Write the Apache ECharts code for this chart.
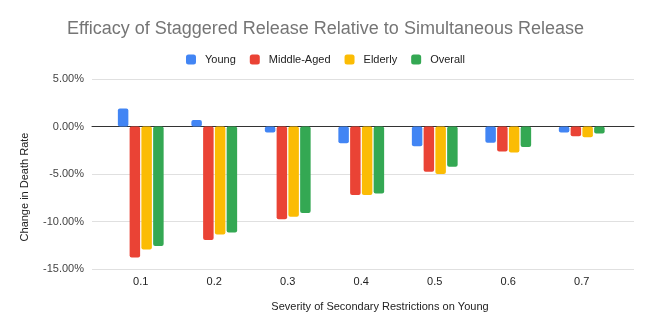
<!DOCTYPE html>
<html>
<head>
<meta charset="utf-8">
<script src="https://cdn.jsdelivr.net/npm/echarts@6/dist/echarts.min.js"></script>
<style>
  html, body { margin: 0; padding: 0; background: #fff; }
  #chart { width: 651px; height: 332px; }
</style>
</head>
<body>
<div id="chart"></div>
<script>
// data (percent change in death rate)
const severity = ['0.1', '0.2', '0.3', '0.4', '0.5', '0.6', '0.7'];
const young = [1.9, 0.68, -0.63, -1.75, -2.07, -1.71, -0.63];
const middleAged = [-13.8, -11.94, -9.77, -7.21, -4.76, -2.63, -1.02];
const elderly = [-12.95, -11.38, -9.49, -7.21, -5.0, -2.73, -1.12];
const overall = [-12.57, -11.17, -9.1, -7.04, -4.24, -2.17, -0.74];

const font = 'Liberation Sans, Arial, sans-serif';
const chart = echarts.init(document.getElementById('chart'));

function barSeries(name, data, color) {
  return {
    name: name,
    type: 'bar',
    xAxisIndex: 1,
    yAxisIndex: 1,
    data: data,
    barWidth: 10.5,
    barGap: '12%',
    itemStyle: { color: color, borderRadius: 2 }
  };
}

chart.setOption({
  animation: false,
  textStyle: { fontFamily: font },
  title: {
    text: 'Efficacy of Staggered Release Relative to Simultaneous Release',
    left: 'center',
    top: 15,
    textStyle: { fontFamily: font, fontSize: 18, fontWeight: 'normal', color: '#757575' }
  },
  legend: {
    top: 49,
    left: 'center',
    icon: 'roundRect',
    itemWidth: 10,
    itemHeight: 10,
    itemGap: 14,
    textStyle: { fontFamily: font, fontSize: 11, color: '#222', padding: [0, 0, 0, 4] },
    data: ['Young', 'Middle-Aged', 'Elderly', 'Overall']
  },
  grid: [
    { left: 92, right: 17, top: 79, bottom: 63 },
    { left: 104, right: 32.5, top: 79, bottom: 63 }
  ],
  xAxis: [
    {
      type: 'category',
      gridIndex: 0,
      data: severity,
      axisLine: { show: true, onZero: true, lineStyle: { color: '#333', width: 1 } },
      axisTick: { show: false },
      axisLabel: { show: false },
      splitLine: { show: false }
    },
    {
      type: 'category',
      gridIndex: 1,
      data: severity,
      axisLine: { show: false },
      axisTick: { show: false },
      axisLabel: { margin: 7, fontSize: 11, color: '#222', fontFamily: font }
    }
  ],
  yAxis: [
    {
      type: 'value',
      gridIndex: 0,
      min: -15,
      max: 5,
      interval: 5,
      axisLine: { show: false },
      axisTick: { show: false },
      axisLabel: {
        margin: 8,
        fontSize: 11,
        color: '#444',
        fontFamily: font,
        formatter: v => v.toFixed(2) + '%'
      },
      splitLine: { lineStyle: { color: '#e0e0e0' } }
    },
    {
      type: 'value',
      gridIndex: 1,
      min: -15,
      max: 5,
      interval: 5,
      axisLine: { show: false },
      axisTick: { show: false },
      axisLabel: { show: false },
      splitLine: { show: false }
    }
  ],
  graphic: [
    {
      type: 'text',
      x: 25,
      y: 187,
      rotation: Math.PI / 2,
      style: {
        text: 'Change in Death Rate',
        fontFamily: font,
        fontSize: 11,
        fill: '#222',
        align: 'center',
        verticalAlign: 'middle'
      }
    },
    {
      type: 'text',
      x: 380,
      y: 307,
      style: {
        text: 'Severity of Secondary Restrictions on Young',
        fontFamily: font,
        fontSize: 11,
        fill: '#222',
        align: 'center',
        verticalAlign: 'middle'
      }
    }
  ],
  series: [
    barSeries('Young', young, '#4285F4'),
    barSeries('Middle-Aged', middleAged, '#EA4335'),
    barSeries('Elderly', elderly, '#FBBC04'),
    barSeries('Overall', overall, '#34A853')
  ]
});
</script>
</body>
</html>
